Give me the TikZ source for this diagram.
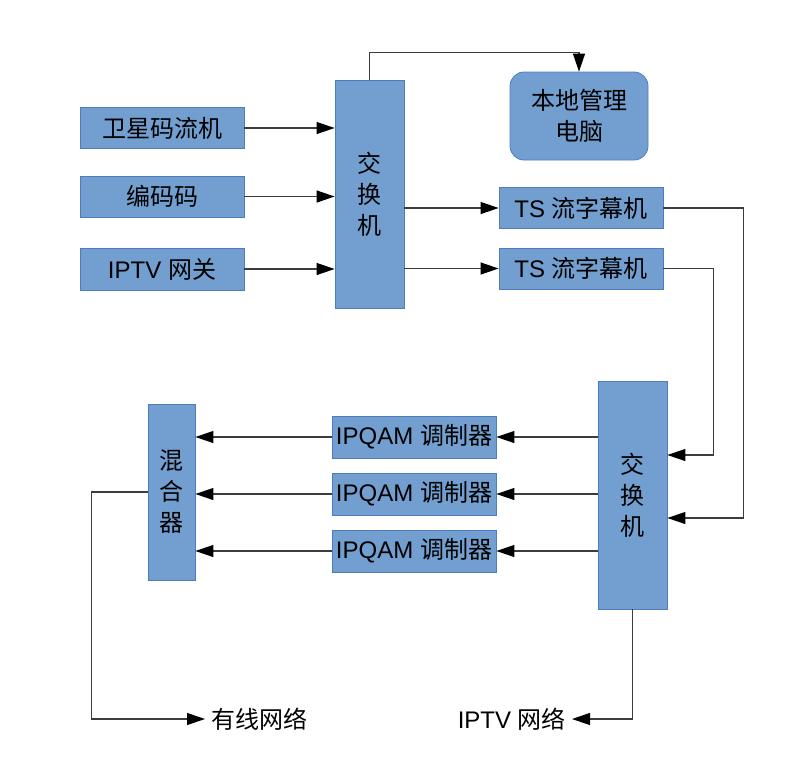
\documentclass[tikz,border=0pt]{standalone}
\usepackage{fontspec}
\setmainfont{Liberation Sans}
\newfontfamily\zhfont{Noto Sans CJK SC}
\newcommand{\zh}[1]{{\zhfont #1}}
\usetikzlibrary{arrows.meta}
\definecolor{boxblue}{HTML}{729FCF}
\definecolor{boxedge}{HTML}{4E7DBD}
\definecolor{wire}{HTML}{3C3C3C}

\begin{document}
\begin{tikzpicture}[x=1pt, y=-1pt,
  font=\fontsize{24}{31}\selectfont,
  unit/.style={draw=boxedge, fill=boxblue, line width=0.8pt, inner sep=0pt, align=center, text=black},
  link/.style={draw=wire, line width=1.1pt, -{Triangle[length=18pt, width=12pt, color=black]}},
  lbl/.style={inner xsep=6pt, inner ysep=2pt}]
  \useasboundingbox (0,0) rectangle (800,772);

  % --- Head end: sources, first switch, management PC ---
  \node[unit, minimum width=164pt, minimum height=41pt] (sat) at (162,128) {\zh{卫星码流机}};
  \node[unit, minimum width=164pt, minimum height=41pt] (enc) at (162,196.5) {\zh{编码码}};
  \node[unit, minimum width=164pt, minimum height=42pt] (gw)  at (162,269) {IPTV \zh{网关}};
  \node[unit, minimum width=69pt, minimum height=228pt] (sw1) at (369.5,194) {\zh{交}\\\zh{换}\\\zh{机}};
  \node[unit, rounded corners=14pt, minimum width=138pt, minimum height=88pt] (pc) at (579,116) {\zh{本地管理}\\\zh{电脑}};

  \foreach \src in {sat, enc, gw}
    \draw[link] (\src.east) -- (\src.east -| sw1.west);
  \draw[link] (sw1.north) -- ++(0,-27) -| (pc.north);

  % --- Subtitle inserters ---
  \node[unit, minimum width=164pt, minimum height=41pt] (ts1) at (581,208) {TS \zh{流字幕机}};
  \node[unit, minimum width=164pt, minimum height=41pt] (ts2) at (581,268.5) {TS \zh{流字幕机}};
  \draw[link] (sw1.east |- ts1) -- (ts1.west);
  \draw[link] (sw1.east |- ts2) -- (ts2.west);

  % --- Second switch, modulators, mixer ---
  \node[unit, minimum width=69pt, minimum height=228pt] (sw2) at (632.5,495) {\zh{交}\\\zh{换}\\\zh{机}};
  \node[unit, minimum width=47pt, minimum height=176pt] (mix) at (171.5,492) {\zh{混}\\\zh{合}\\\zh{器}};
  \draw[link] (ts1.east) -- ++(80,0) |- ([yshift=-23pt]sw2.east);
  \draw[link] (ts2.east) -- ++(50,0) |- ([yshift=40pt]sw2.east);

  \foreach \i/\y in {1/437, 2/494, 3/551} {
    \node[unit, minimum width=164pt, minimum height=42pt] (qam\i) at (414,\y) {IPQAM \zh{调制器}};
    \draw[link] (sw2.west |- qam\i) -- (qam\i.east);
    \draw[link] (qam\i.west) -- (qam\i.west -| mix.east);
  }

  % --- Outputs ---
  \node[lbl, anchor=west] (cable) at (205,719) {\zh{有线网络}};
  \node[lbl, anchor=east] (iptvnet) at (572,719) {IPTV \zh{网络}};
  \draw[link] (mix.west) -- ++(-56,0) |- (cable.west);
  \draw[link] (sw2.south) |- (iptvnet.east);
\end{tikzpicture}
\end{document}
